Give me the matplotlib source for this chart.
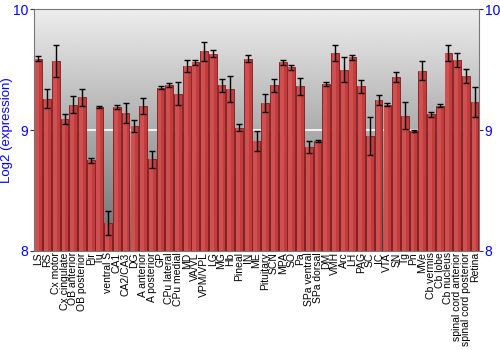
import numpy as np
import matplotlib
matplotlib.use("Agg")
import matplotlib.pyplot as plt

plt.rcParams['font.family'] = ['Liberation Sans', 'DejaVu Sans']

regions = ["LS", "RS", "Cx motor", "Cx cingulate", "OB anterior", "OB posterior",
           "Pir", "Tu", "ventral S", "CA1", "CA2/CA3", "DG", "A anterior",
           "A posterior", "GP", "CPu lateral", "CPu medial", "MD", "VA/VL",
           "VPM/VPL", "LG", "MG", "Hb", "Pineal", "IN", "ME", "Pituitary", "SCN",
           "MPA", "SO", "Pa", "SPa ventral", "SPa dorsal", "DM", "VMH", "Arc",
           "LH", "PAG", "SC", "IC", "VTA", "SN", "Tg", "Pn", "MVe", "Cb vermis",
           "Cb lobe", "Cb nucleus", "spinal cord anterior",
           "spinal cord posterior", "Retina"]

expression = [9.59, 9.26, 9.57, 9.09, 9.21, 9.27, 8.75, 9.19, 8.23, 9.19,
              9.14, 9.03, 9.20, 8.76, 9.35, 9.37, 9.30, 9.53, 9.56, 9.65,
              9.63, 9.37, 9.34, 9.02, 9.59, 8.91, 9.22, 9.37, 9.56, 9.52,
              9.36, 8.86, 8.91, 9.38, 9.64, 9.50, 9.60, 9.36, 8.95, 9.25,
              9.21, 9.44, 9.12, 8.99, 9.49, 9.13, 9.20, 9.64, 9.58, 9.45, 9.23]

err = [0.02, 0.08, 0.13, 0.04, 0.07, 0.07, 0.02, 0.005, 0.10, 0.02,
       0.085, 0.05, 0.065, 0.07, 0.01, 0.015, 0.095, 0.05, 0.02, 0.08,
       0.03, 0.055, 0.105, 0.03, 0.03, 0.08, 0.075, 0.055, 0.02, 0.02,
       0.073, 0.05, 0.005, 0.02, 0.066, 0.10, 0.02, 0.055, 0.155, 0.04,
       0.015, 0.04, 0.11, 0.01, 0.077, 0.02, 0.012, 0.066, 0.06, 0.058, 0.124]

fig = plt.figure(figsize=(5, 3.5), dpi=100)
ax = fig.add_axes([0.068, 0.283, 0.89, 0.691])

x = np.arange(len(regions))

# gray gradient background, light at top
grad = np.linspace(0.93, 0.42, 256).reshape(-1, 1)
ax.imshow(grad, cmap='gray', vmin=0, vmax=1, aspect='auto', origin='upper',
          extent=(-0.5, len(regions) - 0.5, 8, 10), zorder=0)
ax.axhline(9, color='white', lw=1.2, zorder=1)

ax.bar(x, np.array(expression) - 8, bottom=8, width=0.88,
       color='#c23c3c', edgecolor='#7e1818', linewidth=0.6, zorder=2)
ax.bar(x - 0.12, np.array(expression) - 8, bottom=8, width=0.45,
       color='#cf5050', linewidth=0, zorder=2)
ax.errorbar(x, expression, yerr=err, fmt='none', ecolor='black',
            elinewidth=1, capsize=2, capthick=1, zorder=3)

ax.set_xlim(-0.5, len(regions) - 0.5)
ax.set_ylim(8, 10)
ax.set_yticks([8, 9, 10])
ax.set_xticks(x)
ax.set_xticklabels(regions, rotation=90, fontsize=7.5)
ax.tick_params(axis='x', length=0, pad=1)
ax.tick_params(axis='y', colors='#333333', labelcolor='blue', labelsize=10,
               length=3, right=True, labelright=True, pad=1)
ax.set_ylabel('Log2 (expression)', color='blue', fontsize=9.5, labelpad=0)
for s in ax.spines.values():
    s.set_color('#777777')

fig.savefig('out.png', dpi=100)
